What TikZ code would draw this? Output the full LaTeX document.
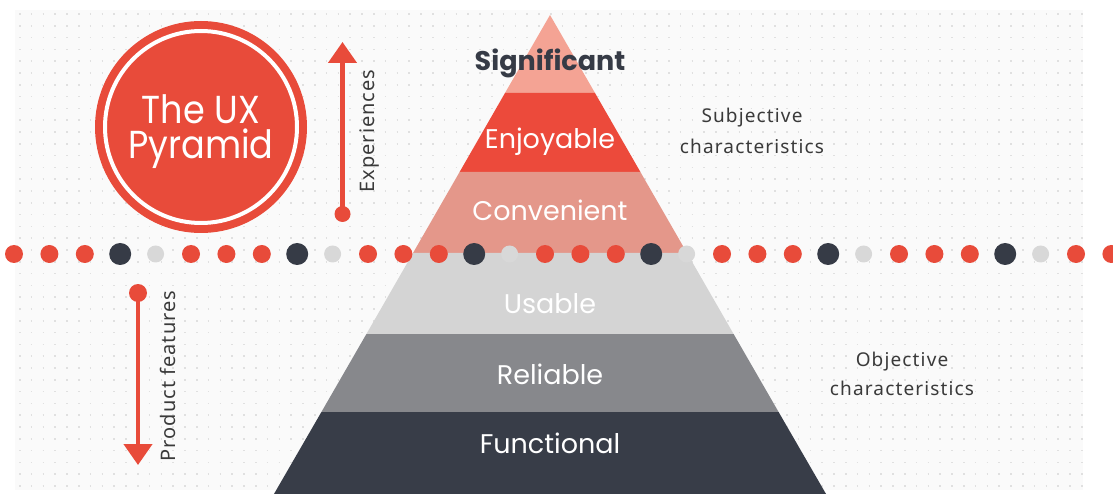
\documentclass[tikz,border=0pt]{standalone}
\usepackage{fontspec}
\setmainfont{Poppins}
\newfontfamily\labfont{Noto Sans}[LetterSpace=6]
\newfontfamily\vlabfont{Noto Sans}[LetterSpace=5]
\usetikzlibrary{arrows.meta}
\definecolor{uxred}{HTML}{E84B3A}
\definecolor{uxdark}{HTML}{363B46}
\definecolor{uxlight}{HTML}{D8D8D8}
\definecolor{csig}{HTML}{F4A394}
\definecolor{cenj}{HTML}{EC4A3B}
\definecolor{cconv}{HTML}{E4978A}
\definecolor{cusa}{HTML}{D4D4D4}
\definecolor{crel}{HTML}{87888C}
\definecolor{cfun}{HTML}{383D48}
\definecolor{gridbg}{HTML}{FAFAFA}
\definecolor{griddot}{HTML}{E0E0E0}
\definecolor{labgray}{HTML}{3A3A3A}
\tikzset{
  pyrtxt/.style={text=white, font=\fontsize{27}{30}\selectfont, anchor=base, inner sep=0pt},
  pyrbold/.style={text=uxdark, font=\fontsize{27}{30}\selectfont\bfseries, anchor=base, inner sep=0pt},
  titletxt/.style={text=white, font=\fontsize{39}{35}\selectfont, align=center, inner sep=0pt, xscale=0.9, transform shape},
  sidelab/.style={text=labgray, font=\labfont\fontsize{19}{21}\selectfont, anchor=base, inner sep=0pt},
  vertlab/.style={text=labgray, font=\vlabfont\fontsize{20}{22}\selectfont, rotate=90, inner sep=0pt},
  uxarrow/.style={draw=uxred, line width=4.5pt, -{Triangle[width=28pt,length=21pt]}, fill=none},
  reddot/.style={fill=uxred},
  darkdot/.style={fill=uxdark},
  lightdot/.style={fill=uxlight}
}
\begin{document}
\begin{tikzpicture}[x=1pt,y=-1pt]
\useasboundingbox (0,0) rectangle (1113,494);
\fill[white] (0,0) rectangle (1113,494);
% dotted grid background
\fill[gridbg] (15,10) rectangle (1083,490);
\foreach \j in {0,...,40}
  \draw[griddot, line width=1.6pt, dash pattern=on 1.6pt off 10.2pt] (19,{14+11.8*\j}) -- (1083,{14+11.8*\j});
% pyramid bands
\fill[csig] (550,15) -- (595,93) -- (505,93) -- cycle;
\fill[cenj] (505,93) -- (595,93) -- (640.4,172) -- (459.6,172) -- cycle;
\fill[cconv] (459.6,172) -- (640.4,172) -- (687,253) -- (413,253) -- cycle;
\fill[cusa] (413,253) -- (687,253) -- (733.6,334) -- (366.4,334) -- cycle;
\fill[crel] (366.4,334) -- (733.6,334) -- (778.6,412) -- (321.4,412) -- cycle;
\fill[cfun] (321.4,412) -- (778.6,412) -- (829.5,500) -- (270.5,500) -- cycle;
% dotted divider
\foreach \k in {0,...,31}{
  \pgfmathtruncatemacro{\m}{mod(\k,5)}
  \ifnum\m=3
    \fill[darkdot] ({14+35.4*\k},254) circle (11);
  \else\ifnum\m=4
    \fill[lightdot] ({14+35.4*\k},254) circle (8.5);
  \else
    \fill[reddot] ({14+35.4*\k},254) circle (9);
  \fi\fi
}
% pyramid labels
\node[pyrbold] (sig) at (550,71) {Significant};
\node[pyrtxt] (enj) at (550,149) {Enjoyable};
\node[pyrtxt] (conv) at (550,221) {Convenient};
\node[pyrtxt] (usa) at (550,313) {Usable};
\node[pyrtxt] (rel) at (550,384) {Reliable};
\node[pyrtxt] (fun) at (550,453) {Functional};
% title badge
\fill[uxred] (201,127) circle (106);
\draw[white, line width=4pt] (201,127) circle (96);
\node[titletxt] (title) at (201,132) {The UX\\Pyramid};
% experiences arrow
\coordinate (ex0) at (342.5,214);
\coordinate (ex1) at (342.5,42);
\fill[reddot] (ex0) circle (8);
\draw[uxarrow] (ex0) -- (ex1);
\node[vertlab] (exl) at (370,131) {Experiences};
% product features arrow
\coordinate (pf0) at (138,293);
\coordinate (pf1) at (138,465);
\fill[reddot] (pf0) circle (9);
\draw[uxarrow] (pf0) -- (pf1);
\node[vertlab] (pfl) at (168,376) {Product features};
% side labels
\node[sidelab] (sub1) at (752,123) {Subjective};
\node[sidelab] (sub2) at (752,154) {characteristics};
\node[sidelab] (obj1) at (902,366) {Objective};
\node[sidelab] (obj2) at (902,395) {characteristics};
\end{tikzpicture}
\end{document}
